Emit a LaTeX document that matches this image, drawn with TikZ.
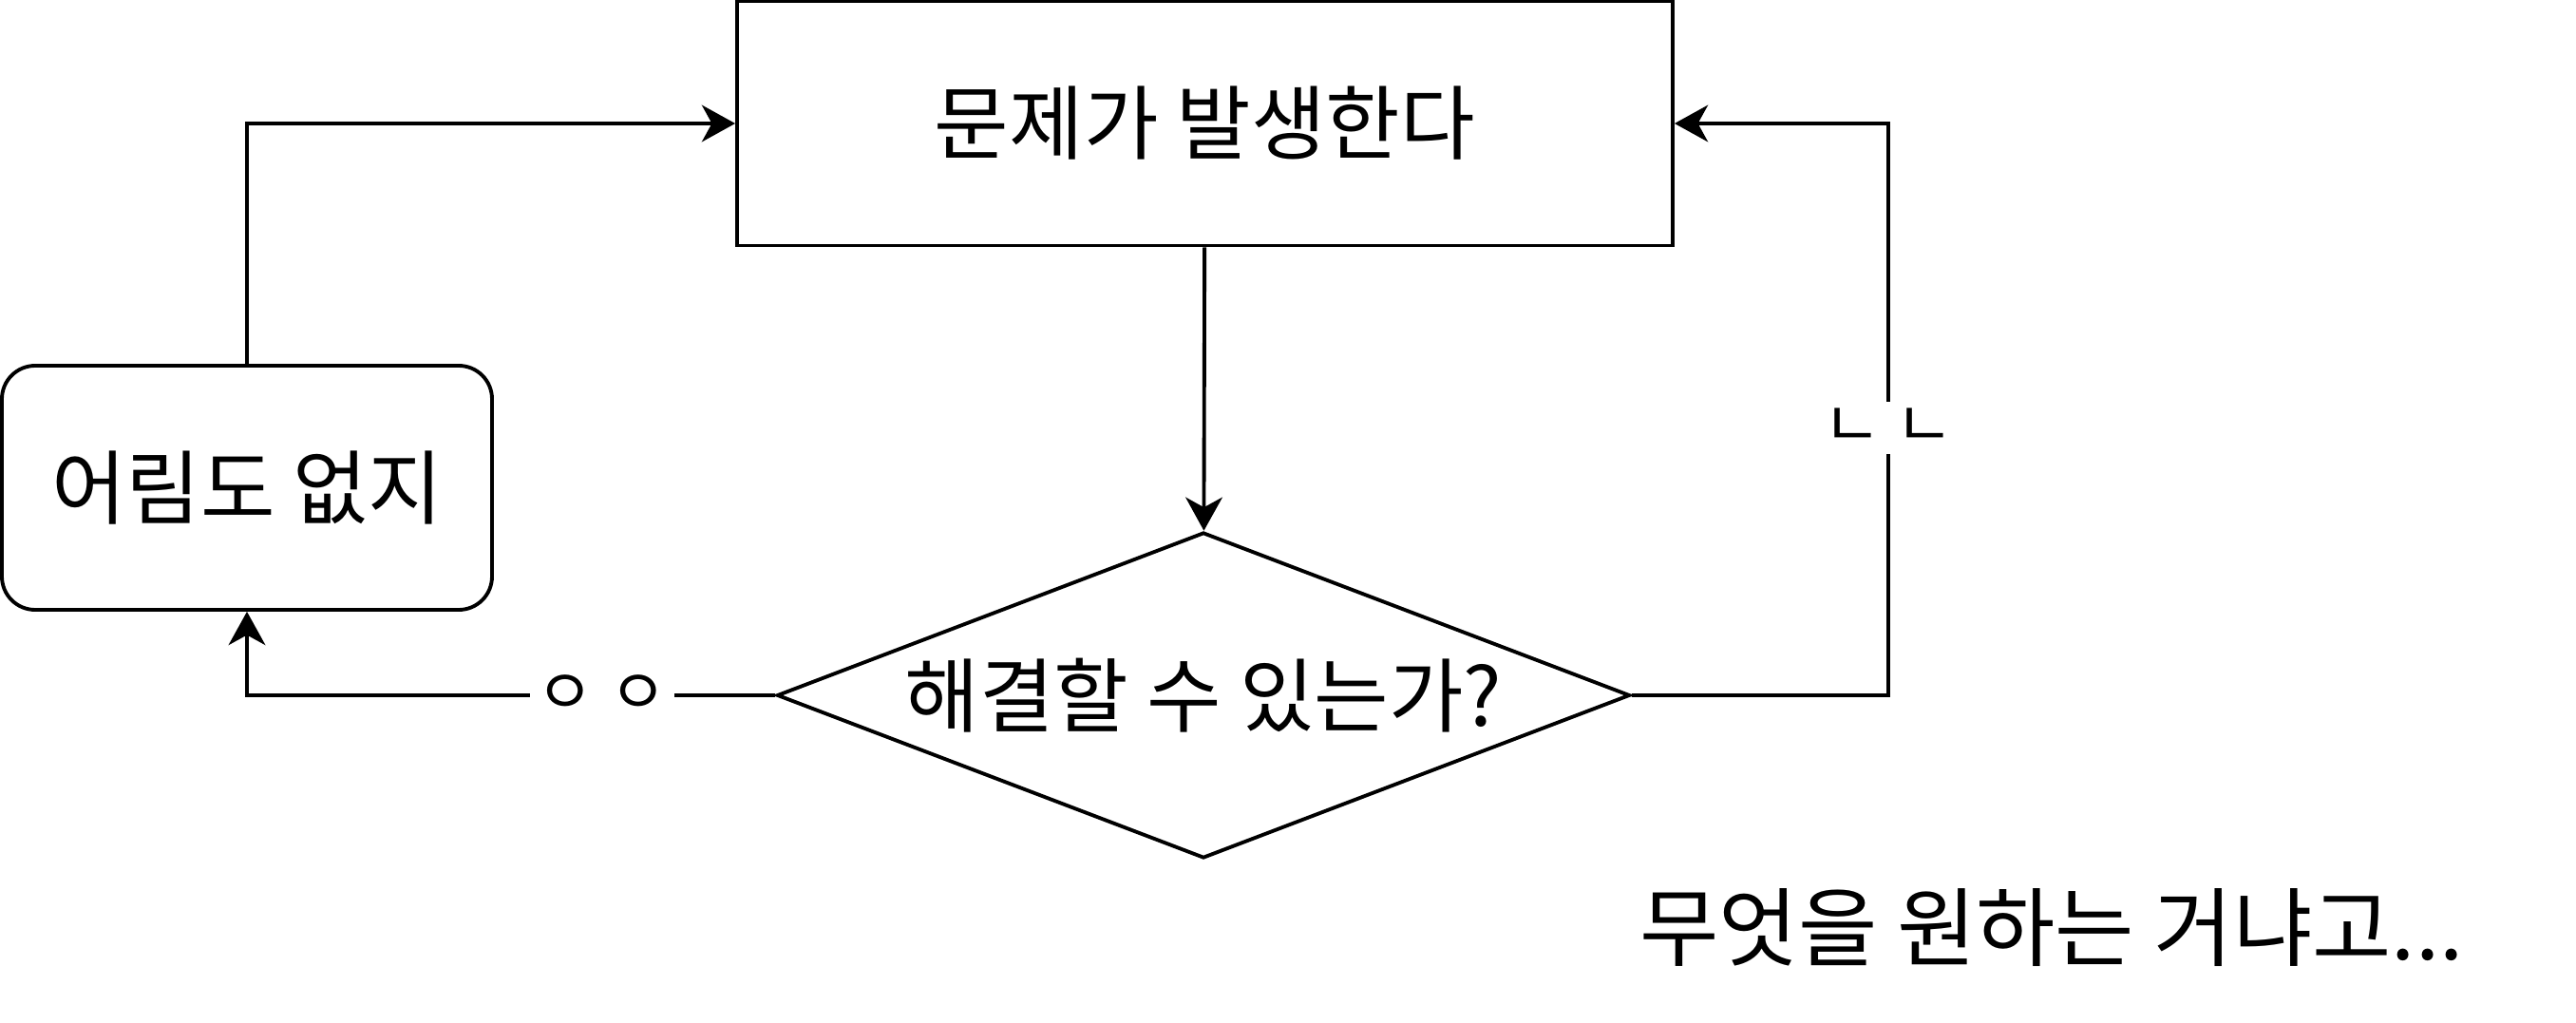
\documentclass[tikz,border=0pt]{standalone}
\usepackage{fontspec}
\setmainfont{Noto Sans CJK KR}
\usetikzlibrary{arrows.meta,shapes.geometric}

\begin{document}
\begin{tikzpicture}[
  box/.style={draw, line width=1.1pt, inner sep=0pt, minimum width=9.85cm,
              minimum height=2.57cm, font=\fontsize{24.3}{28}\selectfont},
  rbox/.style={draw, line width=1.1pt, rounded corners=0.35cm, inner sep=0pt,
               minimum width=5.16cm, minimum height=2.57cm,
               font=\fontsize{24.3}{28}\selectfont},
  decision/.style={draw, diamond, aspect=2.6, line width=1.1pt, inner sep=0pt,
                   minimum width=8.98cm, minimum height=3.43cm,
                   font=\fontsize{24.3}{28}\selectfont},
  arrow/.style={-{Stealth[length=10pt,width=11pt,inset=3pt]}, line width=1.1pt},
  lbl/.style={fill=white, inner sep=2pt, font=\fontsize{19}{22}\selectfont}
]
\useasboundingbox (0,0) rectangle (27.12,-10.77);
\node[box] (problem) at (12.685,-1.30) {문제가 발생한다};
\node[rbox] (easy) at (2.60,-5.135) {어림도 없지};
\node[decision] (solve) at (12.67,-7.32) {해결할 수 있는가?};
\node[font=\fontsize{25.8}{30}\selectfont] (want) at (21.6,-9.77) {무엇을 원하는 거냐고...};
\coordinate (rbend) at (19.88,-7.32);
\draw[arrow] (problem)--(solve);
\draw[arrow] (easy.north)|-(problem.west);
\draw[arrow] (solve.west)-|node[lbl,pos=0.164]{ㅇ ㅇ}(easy.south);
\draw[arrow] (solve.east)--(rbend)|-node[lbl,pos=0.234]{ㄴ ㄴ}(problem.east);
\end{tikzpicture}
\end{document}
